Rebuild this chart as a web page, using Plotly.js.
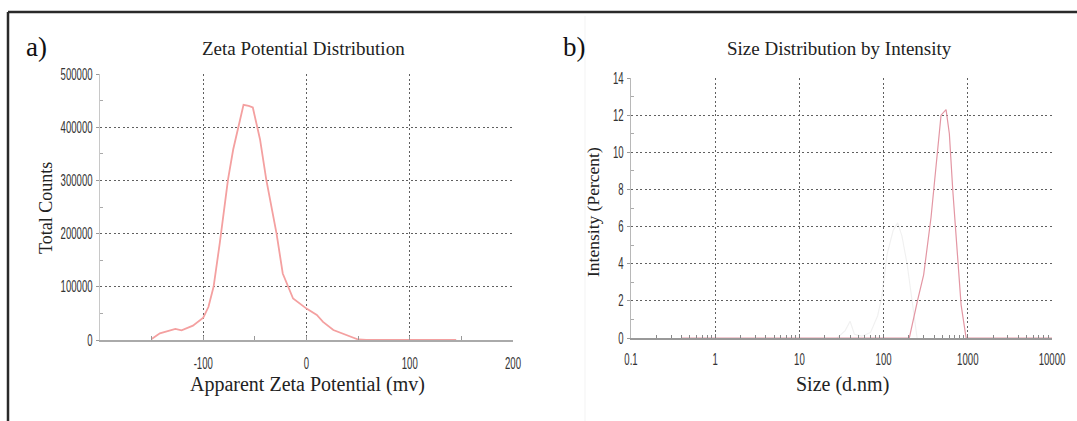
<!DOCTYPE html>
<html>
<head>
<meta charset="utf-8">
<script src="https://cdn.plot.ly/plotly-3.0.1.min.js"></script>
<style>html,body{margin:0;padding:0;background:#fff;}#chart{width:1077px;height:421px;}</style>
</head>
<body>
<div id="chart"></div>
<script>
// ---- Data ----
const zetaX = [-150, -142, -127, -121, -110, -100, -95, -90, -84, -76, -71, -61, -56, -52, -45, -39, -29, -23, -13, 0, 10, 16, 26, 39, 50, 58, 145];
const zetaY = [2000, 12500, 21000, 18000, 27000, 42000, 62000, 100000, 182000, 302000, 358000, 442000, 440000, 437000, 377000, 302000, 200000, 125000, 78000, 59000, 47000, 34000, 18750, 9400, 1000, 0, 0];

const sizeX = [0.4, 202, 254, 299, 366, 440, 481, 552, 604, 662, 760, 832, 955, 10000];
const intensity = [0, 0, 2.05, 3.4, 6.5, 10.1, 12.0, 12.3, 11.0, 8.0, 4.4, 1.8, 0, 0];

// faint ghost record visible behind the size plot
const ghostX = [28, 35, 40, 45, 55, 70, 85, 95, 110, 130, 147, 165, 190, 220, 250];
const ghostY = [0, 0.4, 0.9, 0.2, 0.1, 0.3, 1.2, 2.2, 4.5, 5.8, 6.2, 5.5, 4.0, 2.0, 0];

const zetaTicks = [-100, 0, 100, 200];
const zetaTickText = ['-100', '0', '100', '200'];
const countTicks = [0, 100000, 200000, 300000, 400000, 500000];
const countTickText = ['0', '100000', '200000', '300000', '400000', '500000'];
const sizeTicks = [0.1, 1, 10, 100, 1000, 10000];
const sizeTickText = ['0.1', '1', '10', '100', '1000', '10000'];
const intTicks = [0, 2, 4, 6, 8, 10, 12, 14];
const intTickText = ['0', '2', '4', '6', '8', '10', '12', '14'];

const labels = {
  a: 'a)', b: 'b)',
  titleA: 'Zeta Potential Distribution',
  titleB: 'Size Distribution by Intensity',
  xA: 'Apparent Zeta Potential (mv)', yA: 'Total Counts',
  xB: 'Size (d.nm)', yB: 'Intensity (Percent)'
};

// ---- Layout helpers ----
const W = 1077, H = 421;
const px = v => v / W;
const py = v => 1 - v / H;
const serif = 'Liberation Serif, Times New Roman, serif';
const sans = 'Liberation Sans, Arial, sans-serif';
const tickFont = {family: sans, size: 16, color: '#333'};
const gridStyle = {showgrid: true, gridcolor: '#606060', gridwidth: 1, griddash: '2px,2.5px'};

const traces = [
  {x: zetaX, y: zetaY, xaxis: 'x', yaxis: 'y', type: 'scatter', mode: 'lines',
   line: {color: '#f4a0a0', width: 1.8}, hoverinfo: 'skip'},
  {x: ghostX, y: ghostY, xaxis: 'x2', yaxis: 'y2', type: 'scatter', mode: 'lines',
   line: {color: 'rgba(200,200,200,0.28)', width: 1.1}, hoverinfo: 'skip'},
  {x: sizeX, y: intensity, xaxis: 'x2', yaxis: 'y2', type: 'scatter', mode: 'lines',
   line: {color: '#e396a3', width: 1.2}, hoverinfo: 'skip'}
];

const layout = {
  width: W, height: H,
  margin: {l: 0, r: 0, t: 0, b: 0},
  paper_bgcolor: '#fff', plot_bgcolor: '#fff',
  showlegend: false,
  xaxis: Object.assign({}, gridStyle, {
    domain: [px(100), px(513)], range: [-200, 200], anchor: 'y',
    tickvals: zetaTicks, ticktext: zetaTickText, tickfont: tickFont,
    ticks: 'inside', ticklen: 4, tickcolor: '#999', ticklabelstandoff: 8,
    showline: true, linecolor: '#aaa', linewidth: 1.5, zeroline: false,
    minor: {tickvals: [-150, -50, 50, 150], ticks: 'inside', ticklen: 4, tickcolor: '#999', showgrid: false}
  }),
  yaxis: Object.assign({}, gridStyle, {
    domain: [py(340), py(74)], range: [0, 500000], anchor: 'x',
    tickvals: countTicks, ticktext: countTickText, tickfont: tickFont,
    ticks: 'outside', ticklen: 3, tickcolor: '#999',
    showline: true, linecolor: '#c8c8c8', linewidth: 1.2, zeroline: false,
    minor: {tickvals: [50000, 150000, 250000, 350000, 450000], ticks: 'inside', ticklen: 3, tickcolor: '#aaa', showgrid: false}
  }),
  xaxis2: Object.assign({}, gridStyle, {
    domain: [px(631), px(1052)], type: 'log', range: [-1, 4], anchor: 'y2',
    tickvals: sizeTicks, ticktext: sizeTickText, tickfont: tickFont,
    ticks: 'inside', ticklen: 4, tickcolor: '#777', ticklabelstandoff: 6,
    showline: true, linecolor: '#999', linewidth: 1.5, zeroline: false,
    minor: {dtick: 'D1', ticks: 'inside', ticklen: 3, tickcolor: '#888', showgrid: false}
  }),
  yaxis2: Object.assign({}, gridStyle, {
    domain: [py(338), py(78)], range: [0, 14], anchor: 'x2',
    tickvals: intTicks, ticktext: intTickText, tickfont: tickFont,
    ticks: 'outside', ticklen: 3, tickcolor: '#999',
    showline: true, linecolor: '#b8b8b8', linewidth: 1.2, zeroline: false,
    minor: {tickvals: [1, 3, 5, 7, 9, 11, 13], ticks: 'inside', ticklen: 3, tickcolor: '#aaa', showgrid: false}
  }),
  annotations: [
    {text: labels.a, x: px(24), y: py(47), xref: 'paper', yref: 'paper', xanchor: 'left', yanchor: 'middle', showarrow: false, font: {family: serif, size: 27, color: '#111'}},
    {text: labels.b, x: px(561), y: py(47), xref: 'paper', yref: 'paper', xanchor: 'left', yanchor: 'middle', showarrow: false, font: {family: serif, size: 27, color: '#111'}},
    {text: labels.titleA, x: px(303), y: py(49), xref: 'paper', yref: 'paper', xanchor: 'center', yanchor: 'middle', showarrow: false, font: {family: serif, size: 19, color: '#222'}},
    {text: labels.titleB, x: px(839), y: py(49), xref: 'paper', yref: 'paper', xanchor: 'center', yanchor: 'middle', showarrow: false, font: {family: serif, size: 19, color: '#222'}},
    {text: labels.xA, x: px(307), y: py(384), xref: 'paper', yref: 'paper', xanchor: 'center', yanchor: 'middle', showarrow: false, font: {family: serif, size: 20, color: '#222'}},
    {text: labels.xB, x: px(842), y: py(384), xref: 'paper', yref: 'paper', xanchor: 'center', yanchor: 'middle', showarrow: false, font: {family: serif, size: 20, color: '#222'}},
    {text: labels.yA, x: px(46), y: py(208), xref: 'paper', yref: 'paper', xanchor: 'center', yanchor: 'middle', textangle: -90, showarrow: false, font: {family: serif, size: 18, color: '#222'}},
    {text: labels.yB, x: px(593), y: py(212), xref: 'paper', yref: 'paper', xanchor: 'center', yanchor: 'middle', textangle: -90, showarrow: false, font: {family: serif, size: 17.5, color: '#222'}}
  ],
  shapes: [
    {type: 'line', xref: 'paper', yref: 'paper', x0: px(8), x1: px(8), y0: 0, y1: py(12), line: {color: '#2a2a2a', width: 2.5}},
    {type: 'line', xref: 'paper', yref: 'paper', x0: px(8), x1: 1, y0: py(12), y1: py(12), line: {color: '#2a2a2a', width: 2.5}},
    {type: 'line', xref: 'paper', yref: 'paper', x0: px(585), x1: px(585), y0: 0, y1: py(16), line: {color: '#f3f3f3', width: 1}}
  ]
};

// condensed look of the original tick labels: squeeze glyphs horizontally
function condenseTicks() {
  document.querySelectorAll('.xaxislayer-above text, .yaxislayer-above text').forEach(t => {
    const w = t.getComputedTextLength();
    if (w > 0) {
      t.setAttribute('textLength', (w * 0.6).toFixed(1));
      t.setAttribute('lengthAdjust', 'spacingAndGlyphs');
    }
  });
}

Plotly.newPlot('chart', traces, layout, {staticPlot: true, displayModeBar: false}).then(condenseTicks);
</script>
</body>
</html>
